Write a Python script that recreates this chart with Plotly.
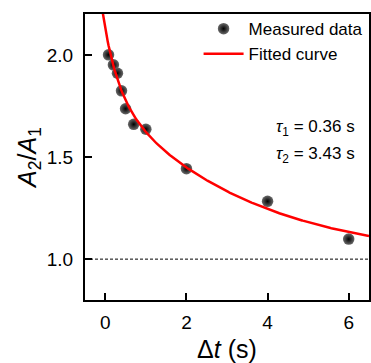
import numpy as np
import plotly.graph_objects as go

# Measured data
t_meas = [0.08, 0.2, 0.3, 0.4, 0.5, 0.7, 1.0, 2.0, 4.0, 6.0]
r_meas = [2.0, 1.951, 1.91, 1.824, 1.736, 1.66, 1.636, 1.443, 1.283, 1.098]

# Fit parameters (biexponential decay)
tau1 = 0.36
tau2 = 3.43
y0 = 0.99
amp1 = 0.318
amp2 = 0.82

t_fit = np.linspace(-0.5, 6.5, 400)
r_fit = y0 + amp1 * np.exp(-t_fit / tau1) + amp2 * np.exp(-t_fit / tau2)

FONT = "Liberation Sans, Arial, sans-serif"

fig = go.Figure()
fig.add_trace(go.Scatter(
    x=t_meas, y=r_meas, mode="markers", name="Measured data",
    marker=dict(size=11.5, color="#6a6a6a", line=dict(width=0),
                gradient=dict(type="radial", color="#000000")),
    legendrank=1,
))
fig.add_trace(go.Scatter(
    x=t_fit, y=r_fit, mode="lines", name="Fitted curve",
    line=dict(color="#ff0000", width=2.5), legendrank=2,
))
fig.add_hline(y=1.0, line=dict(color="black", width=1, dash="3px,2px"))

fig.add_annotation(x=0.958, y=0.602, xref="paper", yref="paper", xanchor="right",
                   text="<i>τ</i><sub>1</sub> = 0.36 s", showarrow=False,
                   font=dict(size=17, color="black", family=FONT))
fig.add_annotation(x=0.958, y=0.506, xref="paper", yref="paper", xanchor="right",
                   text="<i>τ</i><sub>2</sub> = 3.43 s", showarrow=False,
                   font=dict(size=17, color="black", family=FONT))

axis_common = dict(
    showline=True, linecolor="black", linewidth=2, mirror=True,
    ticks="inside", ticklen=7, tickwidth=1.5, tickcolor="black",
    showgrid=False, zeroline=False,
    tickfont=dict(size=19, color="black", family=FONT),
)

fig.update_layout(
    width=371, height=363,
    margin=dict(l=85, r=0, t=14, b=63),
    plot_bgcolor="white", paper_bgcolor="white",
    font=dict(family=FONT, color="black"),
    xaxis=dict(range=[-0.5, 6.5], tickvals=[0, 2, 4, 6],
               title=dict(text="Δ<i>t</i> (s)", font=dict(size=25), standoff=9),
               ticklabelstandoff=4, **axis_common),
    yaxis=dict(range=[0.8, 2.2], tickvals=[1.0, 1.5, 2.0], tickformat=".1f",
               title=dict(text="<i>A</i><sub>2</sub>/<i>A</i><sub>1</sub>", font=dict(size=25), standoff=3),
               ticklabelstandoff=6, **axis_common),
    legend=dict(x=0.995, y=1.01, xanchor="right", yanchor="top",
                bgcolor="rgba(0,0,0,0)", font=dict(size=17, family=FONT),
                tracegroupgap=0, itemwidth=40),
    showlegend=True,
)

fig.write_html("out.html")
